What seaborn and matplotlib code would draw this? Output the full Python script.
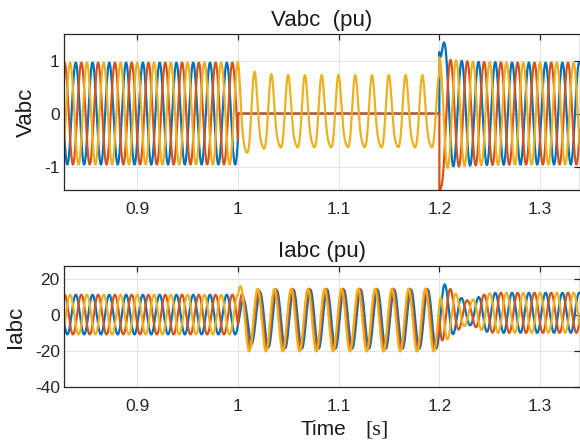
import numpy as np
import pandas as pd
import matplotlib
matplotlib.use("Agg")
import matplotlib.pyplot as plt
import seaborn as sns

# ---- simulation setup ----
freq_hz = 60.0
time_span = [0.82, 1.345]
sample_step = 5e-5
fault_on = 1.0
fault_off = 1.2
phase_labels = ["a", "b", "c"]
phase_colors = ["#0072BD", "#D95319", "#EDB120"]
phase_offset_deg = [-120.0, -240.0, 0.0]   # relative to phase c

# ---- terminal voltage (pu) ----
v_pre_amp = 0.96
v_fault_amp = [0.0, 0.0, 1.0]              # a and b collapse during the fault
v_fault_harm_order = [0, 1, 2]
v_fault_harm_amp = [-0.07, 0.67, 0.13]
v_fault_harm_phase_deg = [0.0, 0.0, 20.0]
v_fault_surge = 0.35
v_fault_surge_tau = 0.012
v_post_amp = 0.96
v_post_overshoot = 0.10
v_post_overshoot_tau = 0.02
v_clear_spike = [1.7, -1.0, 0.0]
v_clear_spike_tau = [0.003, 0.002, 0.003]

# ---- line current (pu) ----
i_pre_amp = 11.1
i_pre_bias = 0.3
i_fault_amp = [16.5, 17.0, 17.5]
i_fault_lag_ms = [5.2, 3.9, 2.8]
i_fault_bias = [-2.2, -2.2, -2.8]
i_fault_ramp = [0.55, 0.2, 0.0]
i_fault_ramp_tau = 0.012
i_post_amp = 11.2
i_post_bias = 1.3
i_post_surge = 8.0
i_post_surge_tau = 0.012
i_post_dip = 5.0
i_post_dip_center = 1.228
i_post_dip_width = 0.014
i_switch_tau = 0.002

# ---- axis layout ----
x_limits = (0.8272, 1.3393)
x_ticks = [0.9, 1.0, 1.1, 1.2, 1.3]
x_tick_labels = ["0.9", "1", "1.1", "1.2", "1.3"]
v_limits = (-1.44, 1.5)
v_ticks = [-1, 0, 1]
i_limits = (-40.2, 27.5)
i_ticks = [-40, -20, 0, 20]

omega = 2 * np.pi * freq_hz
t = np.arange(time_span[0], time_span[1], sample_step)


def angle(tt, k):
    return omega * (tt - fault_on) + np.deg2rad(phase_offset_deg[k])


def fault_wave(theta):
    out = np.zeros_like(theta)
    for h, amp, ph in zip(v_fault_harm_order, v_fault_harm_amp, v_fault_harm_phase_deg):
        out += amp * np.cos(h * theta + np.deg2rad(ph))
    return out


def voltage(k):
    th = angle(t, k)
    pre = v_pre_amp * np.cos(th)
    dt1 = np.clip(t - fault_on, 0, None)
    theta_c = omega * (t - fault_on)
    fault = v_fault_amp[k] * fault_wave(theta_c) * (1 + v_fault_surge * np.exp(-dt1 / v_fault_surge_tau))
    dt2 = np.clip(t - fault_off, 0, None)
    env = v_post_amp + v_post_overshoot * np.exp(-dt2 / v_post_overshoot_tau)
    post = env * np.cos(th) + v_clear_spike[k] * np.exp(-dt2 / v_clear_spike_tau[k])
    return np.where(t < fault_on, pre, np.where(t < fault_off, fault, post))


def current_parts(tt, k):
    th = angle(tt, k)
    pre = i_pre_amp * np.cos(th) + i_pre_bias
    dt1 = np.clip(tt - fault_on, 0, None)
    lag = omega * i_fault_lag_ms[k] * 1e-3
    amp = i_fault_amp[k] * (1 - i_fault_ramp[k] * np.exp(-dt1 / i_fault_ramp_tau))
    fault = amp * np.cos(omega * (tt - fault_on) - lag) + i_fault_bias[k]
    dt2 = np.clip(tt - fault_off, 0, None)
    env = (i_post_amp + i_post_surge * np.exp(-dt2 / i_post_surge_tau)
           - i_post_dip * np.exp(-((tt - i_post_dip_center) / i_post_dip_width) ** 2))
    post = env * np.cos(th) + i_post_bias
    return pre, fault, post


def current(k):
    pre, fault, post = current_parts(t, k)
    p1, f1, _ = current_parts(np.array([fault_on]), k)
    _, f2, q2 = current_parts(np.array([fault_off]), k)
    dt1 = np.clip(t - fault_on, 0, None)
    dt2 = np.clip(t - fault_off, 0, None)
    fault = fault + (p1[0] - f1[0]) * np.exp(-dt1 / i_switch_tau)
    post = post + (f2[0] - q2[0]) * np.exp(-dt2 / i_switch_tau)
    return np.where(t < fault_on, pre, np.where(t < fault_off, fault, post))


def long_frame(func):
    return pd.concat(
        [pd.DataFrame({"time": t, "value": func(k), "phase": name})
         for k, name in enumerate(phase_labels)],
        ignore_index=True,
    )


v_df = long_frame(voltage)
i_df = long_frame(current)

sns.set_style("white")
plt.rcParams["font.family"] = ["Liberation Sans", "DejaVu Sans"]
plt.rcParams["axes.unicode_minus"] = False

fig = plt.figure(figsize=(5.8, 4.46), dpi=100)
ax_v = fig.add_axes([0.1103, 0.574, 0.889, 0.3498])
ax_i = fig.add_axes([0.1103, 0.1323, 0.889, 0.2713])

for ax, df, ylim, yticks, ylabel, title, tpad, lab_x in [
    (ax_v, v_df, v_limits, v_ticks, "Vabc", "Vabc  (pu)", 5.5, -0.053),
    (ax_i, i_df, i_limits, i_ticks, "Iabc", "Iabc (pu)", 6.5, -0.074),
]:
    ax.grid(True, color="#e3e3e3", linewidth=0.7)
    ax.set_axisbelow(True)
    sns.lineplot(data=df, x="time", y="value", hue="phase", hue_order=phase_labels,
                 palette=phase_colors, estimator=None, sort=False, legend=False,
                 linewidth=1.6, ax=ax)
    ax.set_xlim(*x_limits)
    ax.set_ylim(*ylim)
    ax.set_xticks(x_ticks)
    ax.set_xticklabels(x_tick_labels)
    ax.set_yticks(yticks)
    ax.tick_params(direction="in", length=4.5, width=0.9, labelsize=12.5,
                   top=True, right=True, colors="#262626")
    ax.tick_params(axis="x", pad=8.5)
    ax.tick_params(axis="y", pad=3)
    for sp in ax.spines.values():
        sp.set_visible(True)
        sp.set_color("#262626")
        sp.set_linewidth(0.9)
    ax.set_title(title, fontsize=16, pad=tpad, color="#1a1a1a")
    ax.set_ylabel(ylabel, fontsize=16, color="#1a1a1a")
    ax.yaxis.set_label_coords(lab_x, 0.5)
    ax.set_xlabel("")

ax_i.set_xlabel("Time", fontsize=15, color="#1a1a1a")
ax_i.xaxis.set_label_coords(0.503, -0.275)
fig.text(377 / 580, 1 - 430 / 446, "[s]", fontsize=16, family="Liberation Serif",
         color="#1a1a1a", ha="center", va="center")

fig.savefig("out.png", dpi=100)
